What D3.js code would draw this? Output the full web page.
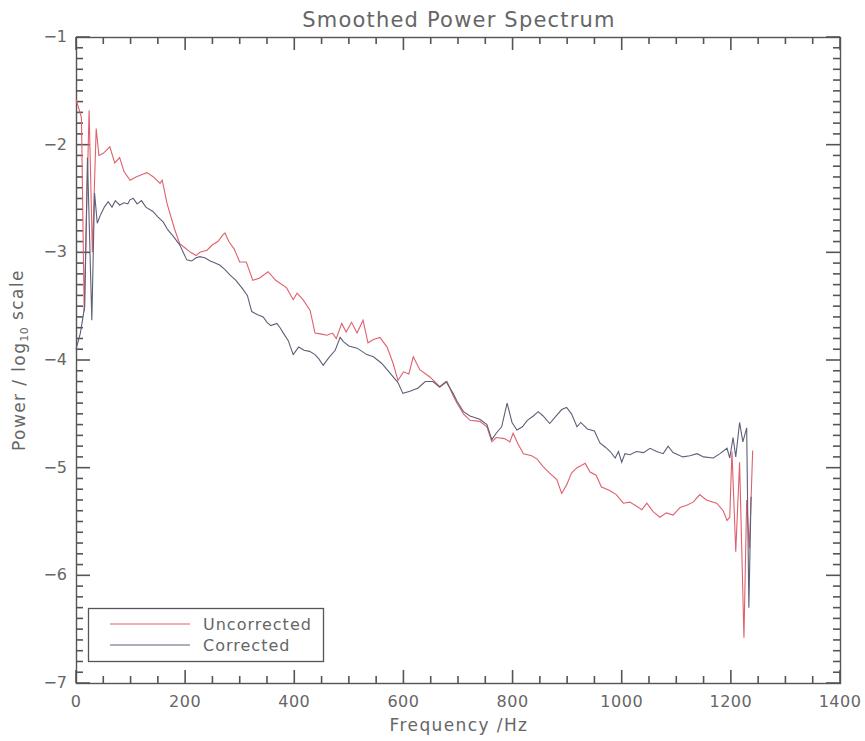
<!DOCTYPE html>
<html>
<head>
<meta charset="utf-8">
<script src="https://cdn.jsdelivr.net/npm/d3@7/dist/d3.min.js"></script>
<style>
  html, body { margin: 0; padding: 0; background: #fff; }
  svg { display: block; }
  text { font-family: "DejaVu Sans", "Liberation Sans", sans-serif; fill: #666; }
</style>
</head>
<body>
<svg id="chart" width="865" height="741"></svg>
<script>
// Smoothed power spectrum, log10 power vs frequency (Hz)
const titleText = "Smoothed Power Spectrum";
const xLabel = "Frequency /Hz";
const seriesNames = ["Uncorrected", "Corrected"];
const xTicks = [0, 200, 400, 600, 800, 1000, 1200, 1400];
const yTicks = [-1, -2, -3, -4, -5, -6, -7];

const freqUncorrected = [
  0, 5, 10, 15, 24, 30, 37, 42, 50, 62, 71, 80, 88, 99, 110, 120, 130, 142, 154, 158,
  167, 181, 190, 200, 210, 220, 227, 240, 250, 260, 269, 273, 280, 290, 300, 312, 324, 336, 352, 366,
  386, 398, 405, 416, 429, 438, 450, 460, 470, 477, 487, 495, 505, 515, 526, 535, 545, 557, 570, 581,
  590, 600, 610, 618, 630, 649, 667, 680, 690, 698, 710, 722, 740, 753, 762, 770, 785, 795, 801, 810,
  820, 835, 845, 856, 868, 881, 890, 899, 908, 918, 926, 933, 942, 953, 963, 977, 990, 1003, 1015, 1028,
  1037, 1046, 1058, 1070, 1082, 1094, 1107, 1119, 1131, 1143, 1155, 1174, 1186, 1193, 1198, 1202, 1209, 1216, 1224, 1229,
  1234, 1240
];
const uncorrected = [
  -1.58, -1.66, -1.75, -3.55, -1.68, -3.0, -1.85, -2.1, -2.08, -2.02, -2.17, -2.12, -2.25, -2.33, -2.3, -2.28, -2.26, -2.3, -2.36, -2.33,
  -2.55, -2.79, -2.92, -2.96, -3.0, -3.03, -3.0, -2.98, -2.93, -2.9, -2.84, -2.82, -2.9, -2.97, -3.09, -3.09, -3.26, -3.24, -3.18, -3.26,
  -3.33, -3.44, -3.38, -3.44, -3.54, -3.75, -3.76, -3.77, -3.75, -3.8, -3.66, -3.74, -3.65, -3.75, -3.63, -3.84, -3.81, -3.79, -3.88, -4.03,
  -4.19, -4.11, -4.13, -3.97, -4.09, -4.16, -4.25, -4.2, -4.32, -4.4, -4.5, -4.56, -4.57, -4.62, -4.76, -4.72, -4.73, -4.76, -4.68, -4.78,
  -4.87, -4.89, -4.92, -4.99, -5.05, -5.11, -5.24, -5.16, -5.05, -5.0, -4.98, -4.96, -5.04, -5.07, -5.18, -5.21, -5.25, -5.33, -5.32, -5.36,
  -5.39, -5.33, -5.41, -5.46, -5.42, -5.44, -5.37, -5.35, -5.32, -5.25, -5.3, -5.33, -5.4, -5.49, -5.46, -4.85, -5.78, -4.95, -6.58, -5.3,
  -5.75, -4.84
];

const freqCorrected = [
  0, 8, 16, 21, 29, 34, 39, 45, 52, 59, 66, 72, 80, 88, 95, 99, 105, 112, 120, 128,
  141, 150, 160, 168, 178, 190, 203, 212, 220, 227, 236, 246, 255, 264, 273, 282, 293, 304, 314, 322,
  333, 343, 350, 357, 368, 374, 380, 389, 398, 408, 418, 428, 438, 445, 453, 463, 475, 484, 490, 500,
  515, 524, 533, 545, 560, 575, 590, 599, 612, 627, 640, 654, 666, 678, 691, 698, 710, 722, 740, 753,
  762, 770, 780, 790, 799, 808, 818, 827, 838, 847, 856, 868, 878, 890, 899, 908, 918, 925, 937, 950,
  960, 970, 979, 988, 994, 1000, 1006, 1015, 1027, 1040, 1052, 1064, 1076, 1085, 1094, 1112, 1125, 1138, 1150, 1168,
  1180, 1193, 1198, 1204, 1209, 1216, 1222, 1229, 1233, 1237
];
const corrected = [
  -3.9, -3.75, -3.5, -2.12, -3.63, -2.45, -2.73, -2.65, -2.58, -2.53, -2.58, -2.52, -2.56, -2.54, -2.55, -2.51, -2.5, -2.55, -2.52, -2.58,
  -2.62, -2.67, -2.72, -2.79, -2.85, -2.93, -3.07, -3.08, -3.05, -3.04, -3.05, -3.08, -3.1, -3.12, -3.16, -3.21, -3.26, -3.33, -3.4, -3.55,
  -3.58, -3.6, -3.65, -3.68, -3.66, -3.7, -3.75, -3.82, -3.95, -3.88, -3.91, -3.92, -3.95, -3.99, -4.05, -3.98, -3.91, -3.79, -3.83, -3.87,
  -3.89, -3.92, -3.95, -3.97, -4.03, -4.12, -4.21, -4.31, -4.29, -4.26, -4.2, -4.2, -4.25, -4.2, -4.31, -4.38, -4.48, -4.52, -4.55, -4.6,
  -4.74, -4.68, -4.62, -4.4, -4.58, -4.65, -4.62, -4.56, -4.52, -4.48, -4.52, -4.59, -4.53, -4.46, -4.44, -4.5, -4.62, -4.58, -4.64, -4.66,
  -4.77, -4.81, -4.85, -4.91, -4.85, -4.95, -4.87, -4.88, -4.85, -4.86, -4.82, -4.85, -4.87, -4.8, -4.86, -4.9, -4.89, -4.87, -4.9, -4.91,
  -4.87, -4.82, -4.91, -4.72, -4.9, -4.58, -4.76, -4.63, -6.3, -5.27
];

const colors = { Uncorrected: "#e0606c", Corrected: "#5c6078", axis: "#555555" };

const svg = d3.select("#chart");
const m = { left: 76, right: 840, top: 37, bottom: 683 };

const x = d3.scaleLinear().domain([0, 1400]).range([m.left, m.right]);
const y = d3.scaleLinear().domain([-7, -1]).range([m.bottom, m.top]);

// Title
svg.append("text")
  .attr("x", (m.left + m.right) / 2 + 1)
  .attr("y", 27)
  .attr("text-anchor", "middle")
  .style("font-size", "21px")
  .style("letter-spacing", "1.2px")
  .text(titleText);

// Frame
svg.append("rect")
  .attr("x", m.left + 0.5).attr("y", m.top + 0.5)
  .attr("width", m.right - m.left).attr("height", m.bottom - m.top)
  .attr("fill", "none").attr("stroke", colors.axis).attr("stroke-width", 1.4);

// Inward ticks on all four sides: majors every 200 Hz / 1 decade, minors every 50 Hz / 0.1
const xMinor = d3.range(0, 29).map(i => i * 50);
const yMinor = d3.range(0, 61).map(i => -7 + i / 10);
const isMajor = v => Math.abs(v - Math.round(v)) < 1e-6;

const xTickData = xMinor.map(v => ({ v, len: v % 200 === 0 ? 13 : 7 }));
const yTickData = yMinor.map(v => ({ v, len: isMajor(v) ? 14 : 7 }));

const tickG = svg.append("g")
  .attr("stroke", colors.axis)
  .attr("stroke-width", 1.6)
  .attr("fill", "none");

tickG.selectAll("path.xb").data(xTickData).join("path")
  .attr("class", "xb")
  .attr("d", d => `M${x(d.v)},${m.bottom}V${m.bottom - d.len}`);
tickG.selectAll("path.xt").data(xTickData).join("path")
  .attr("class", "xt")
  .attr("d", d => `M${x(d.v)},${m.top}V${m.top + d.len}`);
tickG.selectAll("path.yl").data(yTickData).join("path")
  .attr("class", "yl")
  .attr("d", d => `M${m.left},${y(d.v)}H${m.left + d.len}`);
tickG.selectAll("path.yr").data(yTickData).join("path")
  .attr("class", "yr")
  .attr("d", d => `M${m.right},${y(d.v)}H${m.right - d.len}`);

// Tick labels
const fmt = d3.format("d");
svg.append("g").selectAll("text").data(xTicks).join("text")
  .attr("x", d => x(d)).attr("y", 707)
  .attr("text-anchor", "middle")
  .style("font-size", "16px")
  .style("letter-spacing", "0.5px")
  .text(d => fmt(d));
svg.append("g").selectAll("text").data(yTicks).join("text")
  .attr("x", 67).attr("y", d => y(d) + 5)
  .attr("text-anchor", "end")
  .style("font-size", "16px")
  .text(d => fmt(d));

// Axis titles
svg.append("text")
  .attr("x", (m.left + m.right) / 2 + 1)
  .attr("y", 731)
  .attr("text-anchor", "middle")
  .style("font-size", "17px")
  .style("letter-spacing", "1.4px")
  .text(xLabel);

const yt = svg.append("text")
  .attr("transform", `translate(25,${(m.top + m.bottom) / 2}) rotate(-90)`)
  .attr("text-anchor", "middle")
  .style("font-size", "17px")
  .style("letter-spacing", "1.4px");
yt.append("tspan").text("Power / log");
yt.append("tspan").attr("dy", "0.3em").style("font-size", "11px").style("letter-spacing", "0.5px").text("10");
yt.append("tspan").attr("dy", "-0.3em").text(" scale");

// Series
const line = d3.line().x(d => x(d[0])).y(d => y(d[1]));
const series = [
  { name: "Uncorrected", f: freqUncorrected, v: uncorrected },
  { name: "Corrected", f: freqCorrected, v: corrected }
];
const plot = svg.append("g");
series.forEach(s => {
  plot.append("path")
    .datum(d3.zip(s.f, s.v))
    .attr("fill", "none")
    .attr("stroke", colors[s.name])
    .attr("stroke-width", 1.1)
    .attr("d", line);
});

// Legend
const lg = svg.append("g");
lg.append("rect")
  .attr("x", 88.5).attr("y", 608.5).attr("width", 235).attr("height", 53)
  .attr("fill", "#fff").attr("stroke", colors.axis).attr("stroke-width", 1.3);
seriesNames.forEach((n, i) => {
  const yy = 624 + i * 21;
  lg.append("line")
    .attr("x1", 110).attr("x2", 190).attr("y1", yy).attr("y2", yy)
    .attr("stroke", colors[n]).attr("stroke-width", 1.1);
  lg.append("text")
    .attr("x", 203).attr("y", yy + 6)
    .style("font-size", "16px")
    .style("letter-spacing", "1px")
    .text(n);
});
</script>
</body>
</html>
